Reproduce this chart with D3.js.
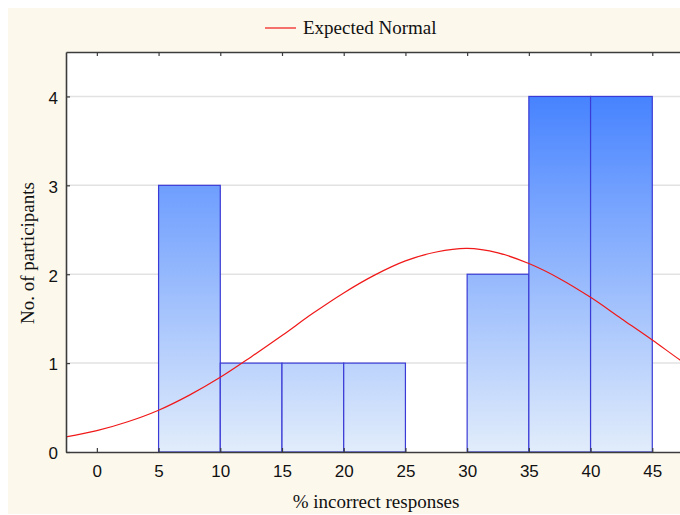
<!DOCTYPE html>
<html>
<head>
<meta charset="utf-8">
<script src="https://cdn.jsdelivr.net/npm/d3@7"></script>
<style>
  body { margin: 0; background: #ffffff; }
  svg { display: block; }
</style>
</head>
<body>
<svg id="histogram" width="680" height="515"></svg>
<script>
// bins of % incorrect responses and their counts
const binStarts = [5, 10, 15, 20, 25, 30, 35, 40]
const binCounts = [3, 1, 1, 1, 0, 2, 4, 4]
const BIN_WIDTH = 5

// expected normal curve
const curveX = [-2.5, 0, 2.5, 5, 7.5, 10, 12.5, 15, 17.5, 20, 22.5, 25, 27.5, 30, 32.5, 35, 37.5, 40, 42.5, 45, 47.5, 50]
const curveY = [0.17, 0.24, 0.34, 0.47, 0.64, 0.84, 1.07, 1.31, 1.56, 1.79, 1.99, 2.15, 2.25, 2.29, 2.24, 2.12, 1.95, 1.74, 1.50, 1.26, 1.01, 0.78]

const xTicks = [0, 5, 10, 15, 20, 25, 30, 35, 40, 45]
const yTicks = [0, 1, 2, 3, 4]

const margins = { top: 52, bottom: 63, left: 66, right: -34 }
const svg = d3.select("#histogram")
const W = 680, H = 515
const width = W - margins.left - margins.right
const height = H - margins.top - margins.bottom

// beige frame
svg.append("rect")
    .attr("x", 8).attr("y", 8)
    .attr("width", W).attr("height", H - 9)
    .attr("fill", "#fcf8ec")

const g = svg.append("g")
    .attr("transform", "translate(" + margins.left + "," + margins.top + ")")

const x = d3.scaleLinear().domain([-2.5, 50]).range([0, width])
const y = d3.scaleLinear().domain([0, 4.5]).range([height, 0])

g.append("rect")
    .attr("width", width).attr("height", height)
    .attr("fill", "#ffffff")

const defs = svg.append("defs")
defs.append("clipPath").attr("id", "plotclip")
    .append("rect").attr("width", width).attr("height", height)

const grad = defs.append("linearGradient")
    .attr("id", "barfill")
    .attr("gradientUnits", "userSpaceOnUse")
    .attr("x1", 0).attr("x2", 0)
    .attr("y1", y(4)).attr("y2", y(0))
grad.append("stop").attr("offset", "0%").attr("stop-color", "#4783ff")
grad.append("stop").attr("offset", "100%").attr("stop-color", "#e2edfb")

// gridlines
g.selectAll(".grid")
    .data(yTicks.filter(d => d > 0))
    .enter().append("line")
    .attr("x1", 0).attr("x2", width)
    .attr("y1", d => y(d)).attr("y2", d => y(d))
    .attr("stroke", "#e2e2e2")
    .attr("stroke-width", 1.5)

// bars
g.selectAll(".bar")
    .data(binStarts.map((s, i) => ({ s: s, c: binCounts[i] })).filter(d => d.c > 0))
    .enter().append("rect")
    .attr("x", d => x(d.s))
    .attr("y", d => y(d.c))
    .attr("width", d => x(d.s + BIN_WIDTH) - x(d.s))
    .attr("height", d => y(0) - y(d.c))
    .attr("fill", "url(#barfill)")
    .attr("stroke", "#3a3ad6")
    .attr("stroke-width", 1.2)

// expected normal
const line = d3.line()
    .x((d, i) => x(curveX[i]))
    .y(d => y(d))
    .curve(d3.curveCatmullRom)

g.append("path")
    .attr("clip-path", "url(#plotclip)")
    .attr("d", line(curveY))
    .attr("fill", "none")
    .attr("stroke", "#f01818")
    .attr("stroke-width", 1.2)

// axes
const xAxis = d3.axisBottom(x).tickValues(xTicks).tickSizeInner(-4).tickSizeOuter(0).tickPadding(13)
const yAxis = d3.axisLeft(y).tickValues(yTicks).tickFormat(d3.format("d")).tickSizeInner(-4).tickSizeOuter(0).tickPadding(8)
const xTop = d3.axisTop(x).tickValues(xTicks).tickSizeInner(-4).tickSizeOuter(0).tickFormat("")

const gx = g.append("g")
    .attr("transform", "translate(0," + height + ")")
    .call(xAxis)
const gy = g.append("g").call(yAxis)
const gt = g.append("g").call(xTop)

;[gx, gy, gt].forEach(a => {
    a.select(".domain").attr("stroke", "#3c3c3c").attr("stroke-width", 1.6)
    a.selectAll(".tick line").attr("stroke", "#3c3c3c").attr("stroke-width", 1.2)
    a.selectAll("text")
        .attr("font-family", "Liberation Sans, Arial, sans-serif")
        .attr("font-size", "17px")
        .attr("fill", "#111")
})
gy.selectAll(".tick text").attr("dy", "0.4em")

// titles
svg.append("text")
    .attr("x", 376).attr("y", 508)
    .attr("text-anchor", "middle")
    .attr("font-family", "Liberation Serif, Times New Roman, serif")
    .attr("font-size", "19px")
    .attr("fill", "#111")
    .text("% incorrect responses")

svg.append("text")
    .attr("transform", "translate(34,253) rotate(-90)")
    .attr("text-anchor", "middle")
    .attr("font-family", "Liberation Serif, Times New Roman, serif")
    .attr("font-size", "19px")
    .attr("fill", "#111")
    .text("No. of participants")

// legend
svg.append("line")
    .attr("x1", 265).attr("x2", 296)
    .attr("y1", 28).attr("y2", 28)
    .attr("stroke", "#f01818")
    .attr("stroke-width", 1.2)
svg.append("text")
    .attr("x", 303).attr("y", 34)
    .attr("font-family", "Liberation Serif, Times New Roman, serif")
    .attr("font-size", "19px")
    .attr("fill", "#111")
    .text("Expected Normal")
</script>
</body>
</html>
